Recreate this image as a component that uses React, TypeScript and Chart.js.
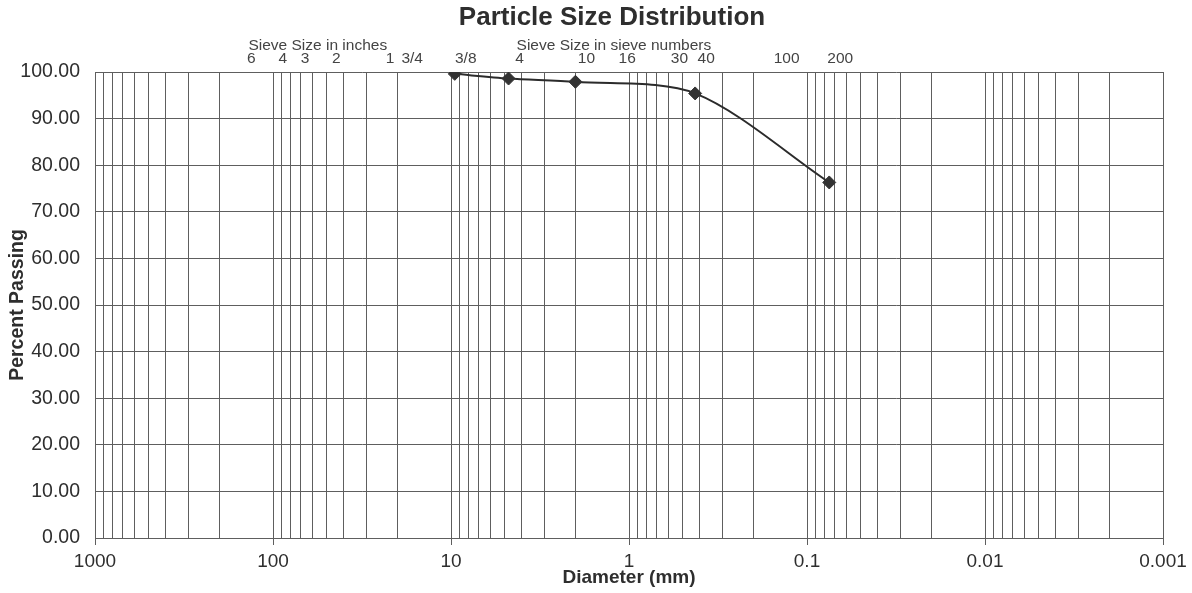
import React, { useEffect, useRef } from 'react';
import { Chart, registerables } from 'chart.js';

Chart.register(...registerables);

// ---- data ----
const chartTitle = 'Particle Size Distribution';
const xAxisTitle = 'Diameter (mm)';
const yAxisTitle = 'Percent Passing';

const sieveDiametersMm = [9.525, 4.75, 2.0, 0.425, 0.075];
const percentPassing = [99.6, 98.6, 97.9, 95.4, 76.3];

const xDecades = [1000, 100, 10, 1, 0.1, 0.01, 0.001];
const xDecadeLabels = ['1000', '100', '10', '1', '0.1', '0.01', '0.001'];
const minorMultipliers = [1, 2, 3, 4, 5, 6, 7, 8, 9];

const yMin = 0;
const yMax = 100;
const yStep = 10;

const inchHeader = 'Sieve Size in inches';
const inchSizesMm = [152.4, 101.6, 76.2, 50.8, 25.4, 19.05, 9.525];
const inchLabels = ['6', '4', '3', '2', '1', '3/4', '3/8'];

const sieveNumberHeader = 'Sieve Size in sieve numbers';
const sieveNumberSizesMm = [4.75, 2.0, 1.18, 0.6, 0.425, 0.15, 0.075];
const sieveNumberLabels = ['4', '10', '16', '30', '40', '100', '200'];

// ---- style ----
const FONT = '"Liberation Sans", Arial, Helvetica, sans-serif';
const GRID = '#5e5e5e';
const TEXT = '#2e2e2e';
const LABEL_DX = 11;
const HEADER_Y = 46;
const NUM_Y = 59;
const TITLE_X = 612;
const TITLE_Y = 18;

const gridValues: number[] = [];
xDecades.slice(1).forEach((d) => {
  minorMultipliers.forEach((m) => gridValues.push(parseFloat((m * d).toPrecision(6))));
});
gridValues.push(xDecades[0]);

const isDecade = (v: number) => xDecades.some((d) => Math.abs(d - v) / d < 1e-9);

const overlayPlugin = {
  id: 'overlayText',
  afterDraw(chart: any) {
    const { ctx } = chart;
    const x = chart.scales.x;
    ctx.save();
    ctx.fillStyle = TEXT;
    ctx.font = `bold 26px ${FONT}`;
    ctx.textAlign = 'center';
    ctx.textBaseline = 'middle';
    ctx.fillText(chartTitle, TITLE_X, TITLE_Y);

    ctx.fillStyle = '#444444';
    ctx.font = `15.5px ${FONT}`;
    const groups = [
      { header: inchHeader, sizes: inchSizesMm, labels: inchLabels },
      { header: sieveNumberHeader, sizes: sieveNumberSizesMm, labels: sieveNumberLabels },
    ];
    groups.forEach((g) => {
      ctx.textAlign = 'left';
      ctx.fillText(g.header, x.getPixelForValue(g.sizes[0]) + LABEL_DX - 3, HEADER_Y);
      ctx.textAlign = 'center';
      g.sizes.forEach((s, i) => {
        ctx.fillText(g.labels[i], x.getPixelForValue(s) + LABEL_DX, NUM_Y);
      });
    });
    ctx.restore();
  },
};

export default function App() {
  const canvasRef = useRef<HTMLCanvasElement>(null);

  useEffect(() => {
    const points = sieveDiametersMm.map((d, i) => ({ x: d, y: percentPassing[i] }));
    const chart = new Chart(canvasRef.current as HTMLCanvasElement, {
      type: 'line',
      data: {
        datasets: [
          {
            data: points,
            borderColor: '#2b2b2b',
            backgroundColor: '#2b2b2b',
            borderWidth: 2,
            pointStyle: 'rectRot',
            pointRadius: 6.5,
            pointBorderWidth: 1,
            pointBackgroundColor: '#333333',
            pointBorderColor: '#333333',
            tension: 0.3,
            fill: false,
          },
        ],
      },
      options: {
        animation: false,
        responsive: true,
        maintainAspectRatio: false,
        layout: { padding: { top: 72, right: 29, bottom: 0, left: 0 } },
        plugins: {
          legend: { display: false },
          title: { display: false },
          tooltip: { enabled: false },
        },
        scales: {
          x: {
            type: 'logarithmic',
            reverse: true,
            min: 0.001,
            max: 1000,
            afterBuildTicks: (scale: any) => {
              scale.ticks = gridValues.map((v) => ({ value: v }));
            },
            afterFit: (scale: any) => {
              scale.height = 55;
            },
            grid: {
              color: GRID,
              lineWidth: 1,
              drawTicks: true,
              tickLength: 7,
              tickColor: (ctx: any) => (ctx.tick && isDecade(ctx.tick.value) ? GRID : 'rgba(0,0,0,0)'),
            },
            border: { display: true, color: GRID, width: 1 },
            ticks: {
              autoSkip: false,
              maxRotation: 0,
              minRotation: 0,
              padding: 5,
              color: TEXT,
              font: { family: FONT, size: 19 },
              callback: (value: any) => {
                const v = Number(value);
                const idx = xDecades.findIndex((d) => Math.abs(d - v) / d < 1e-9);
                return idx >= 0 ? xDecadeLabels[idx] : '';
              },
            },
            title: {
              display: true,
              text: xAxisTitle,
              color: TEXT,
              font: { family: FONT, size: 19, weight: 'bold' },
              padding: { top: 0, bottom: 4 },
            },
          },
          y: {
            type: 'linear',
            min: yMin,
            max: yMax,
            afterFit: (scale: any) => {
              scale.width = 95;
            },
            grid: {
              color: GRID,
              lineWidth: 1,
              drawTicks: false,
            },
            border: { display: true, color: GRID, width: 1 },
            ticks: {
              stepSize: yStep,
              padding: 15,
              color: TEXT,
              font: { family: FONT, size: 19.5 },
              callback: (value: any) => Number(value).toFixed(2),
            },
            title: {
              display: true,
              text: yAxisTitle,
              color: TEXT,
              font: { family: FONT, size: 19.5, weight: 'bold' },
              padding: { top: 6, bottom: 0 },
            },
          },
        },
      },
      plugins: [overlayPlugin],
    } as any);
    return () => chart.destroy();
  }, []);

  return (
    <div style={{ position: 'absolute', left: 0, top: 0, width: 1192, height: 593, background: '#fff' }}>
      <canvas ref={canvasRef} />
    </div>
  );
}
